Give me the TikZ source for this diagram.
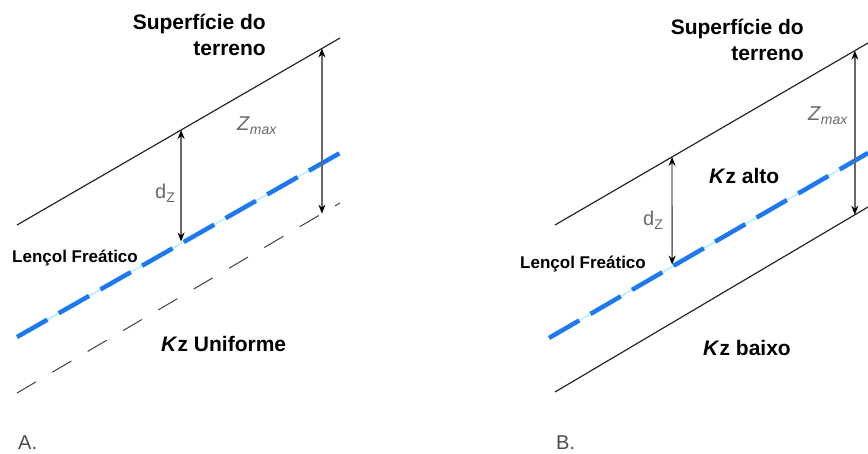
\documentclass[tikz,border=0pt]{standalone}
\usepackage{fontspec}
\setmainfont{Liberation Sans}
\usetikzlibrary{positioning,calc,arrows.meta}
\definecolor{wblue}{RGB}{30,120,240}
\definecolor{wgap}{RGB}{175,238,255}
\definecolor{dimgray}{RGB}{105,105,105}
\newcommand{\Kz}{\textit{K}z}
\newcommand{\lowtxt}[1]{\raisebox{-4pt}{\fontsize{14}{14}\selectfont #1}}
\tikzset{
  surf/.style={line width=1.2pt, black!85},
  wtab/.style={line width=4.5pt, wblue, dash pattern=on 35pt off 13pt},
  wgapline/.style={line width=1.4pt, wgap},
  lowerbd/.style={line width=1pt, black!75, dash pattern=on 22pt off 19pt},
  depth/.style={line width=1.3pt, dimgray,
    {Stealth[length=9pt,width=7pt,color=black]}-{Stealth[length=9pt,width=7pt,color=black]}},
  titlelbl/.style={font=\fontsize{21}{26}\selectfont\bfseries, align=right, inner sep=0pt},
  zonelbl/.style={font=\fontsize{21}{25}\selectfont\bfseries, inner sep=0pt},
  wtlbl/.style={font=\fontsize{17}{20}\selectfont\bfseries, inner sep=0pt},
  dimlbl/.style={font=\fontsize{20}{24}\selectfont, text=dimgray, inner sep=0pt},
  panellbl/.style={font=\fontsize{20}{24}\selectfont, text=black!70, inner sep=0pt}
}

\begin{document}
\begin{tikzpicture}[x=1pt,y=-1pt]
\useasboundingbox (0,0) rectangle (868,454);

% A. uniform Kz
\begin{scope}
\coordinate (supA1) at (17,225);
\coordinate (supA2) at (340,38);
\coordinate (wtA1) at (17,337);
\coordinate (wtA2) at (340,153);
\coordinate (botA1) at (17,393);
\coordinate (botA2) at (340,203);
\draw[surf] (supA1) -- (supA2);
\draw[wgapline] (wtA1) -- (wtA2);
\draw[wtab] (wtA1) -- (wtA2);
\draw[lowerbd] (botA1) -- (botA2);

\coordinate (dzA1) at ($(supA1)!0.508!(supA2)$);
\coordinate (dzA2) at ($(wtA1)!0.508!(wtA2)$);
\coordinate (zmA1) at ($(supA1)!0.944!(supA2)$);
\coordinate (zmA2) at ($(botA1)!0.944!(botA2)$);
\draw[depth, shorten >=2pt] (dzA1) -- (dzA2);
\draw[depth] (zmA1) -- (zmA2);

\node[titlelbl, anchor=east] (supAlbl) at (266,35) {Superfície do\\terreno};
\node[wtlbl, anchor=west] (wtAlbl) at (12,258) {Lençol Freático};
\node[zonelbl, anchor=west] (kzA) at (161,344) {\Kz{} Uniforme};
\node[dimlbl, anchor=west] (zmAlbl) at (237,126) {\textit{Z}\lowtxt{\textit{max}}};
\node[dimlbl, anchor=west] (dzAlbl) at (155,193) {d\lowtxt{Z}};
\node[panellbl, anchor=west] (pA) at (18,443) {A.};
\end{scope}

% B. high Kz over low Kz
\begin{scope}
\coordinate (supB1) at (555,225);
\coordinate (supB2) at (868,43);
\coordinate (wtB1) at (549,338);
\coordinate (wtB2) at (868,153);
\coordinate (botB1) at (555,392);
\coordinate (botB2) at (868,207);
\draw[surf] (supB1) -- (supB2);
\draw[wgapline] (wtB1) -- (wtB2);
\draw[wtab] (wtB1) -- (wtB2);
\draw[surf] (botB1) -- (botB2);

\coordinate (dzB1) at ($(supB1)!0.374!(supB2)$);
\coordinate (dzB2) at ($(wtB1)!0.386!(wtB2)$);
\coordinate (zmB1) at ($(supB1)!0.958!(supB2)$);
\coordinate (zmB2) at ($(botB1)!0.958!(botB2)$);
\draw[depth, shorten >=2pt] (dzB1) -- (dzB2);
\draw[depth] (zmB1) -- (zmB2);

\node[titlelbl, anchor=east] (supBlbl) at (804,40) {Superfície do\\terreno};
\node[wtlbl, anchor=west] (wtBlbl) at (520,264) {Lençol Freático};
\node[zonelbl, anchor=west] (kzB1) at (709,176) {\Kz{} alto};
\node[zonelbl, anchor=west] (kzB2) at (703,348) {\Kz{} baixo};
\node[dimlbl, anchor=west] (zmBlbl) at (808,116) {\textit{Z}\lowtxt{\textit{max}}};
\node[dimlbl, anchor=west] (dzBlbl) at (643,220) {d\lowtxt{Z}};
\node[panellbl, anchor=west] (pB) at (556,443) {B.};
\end{scope}
\end{tikzpicture}
\end{document}
